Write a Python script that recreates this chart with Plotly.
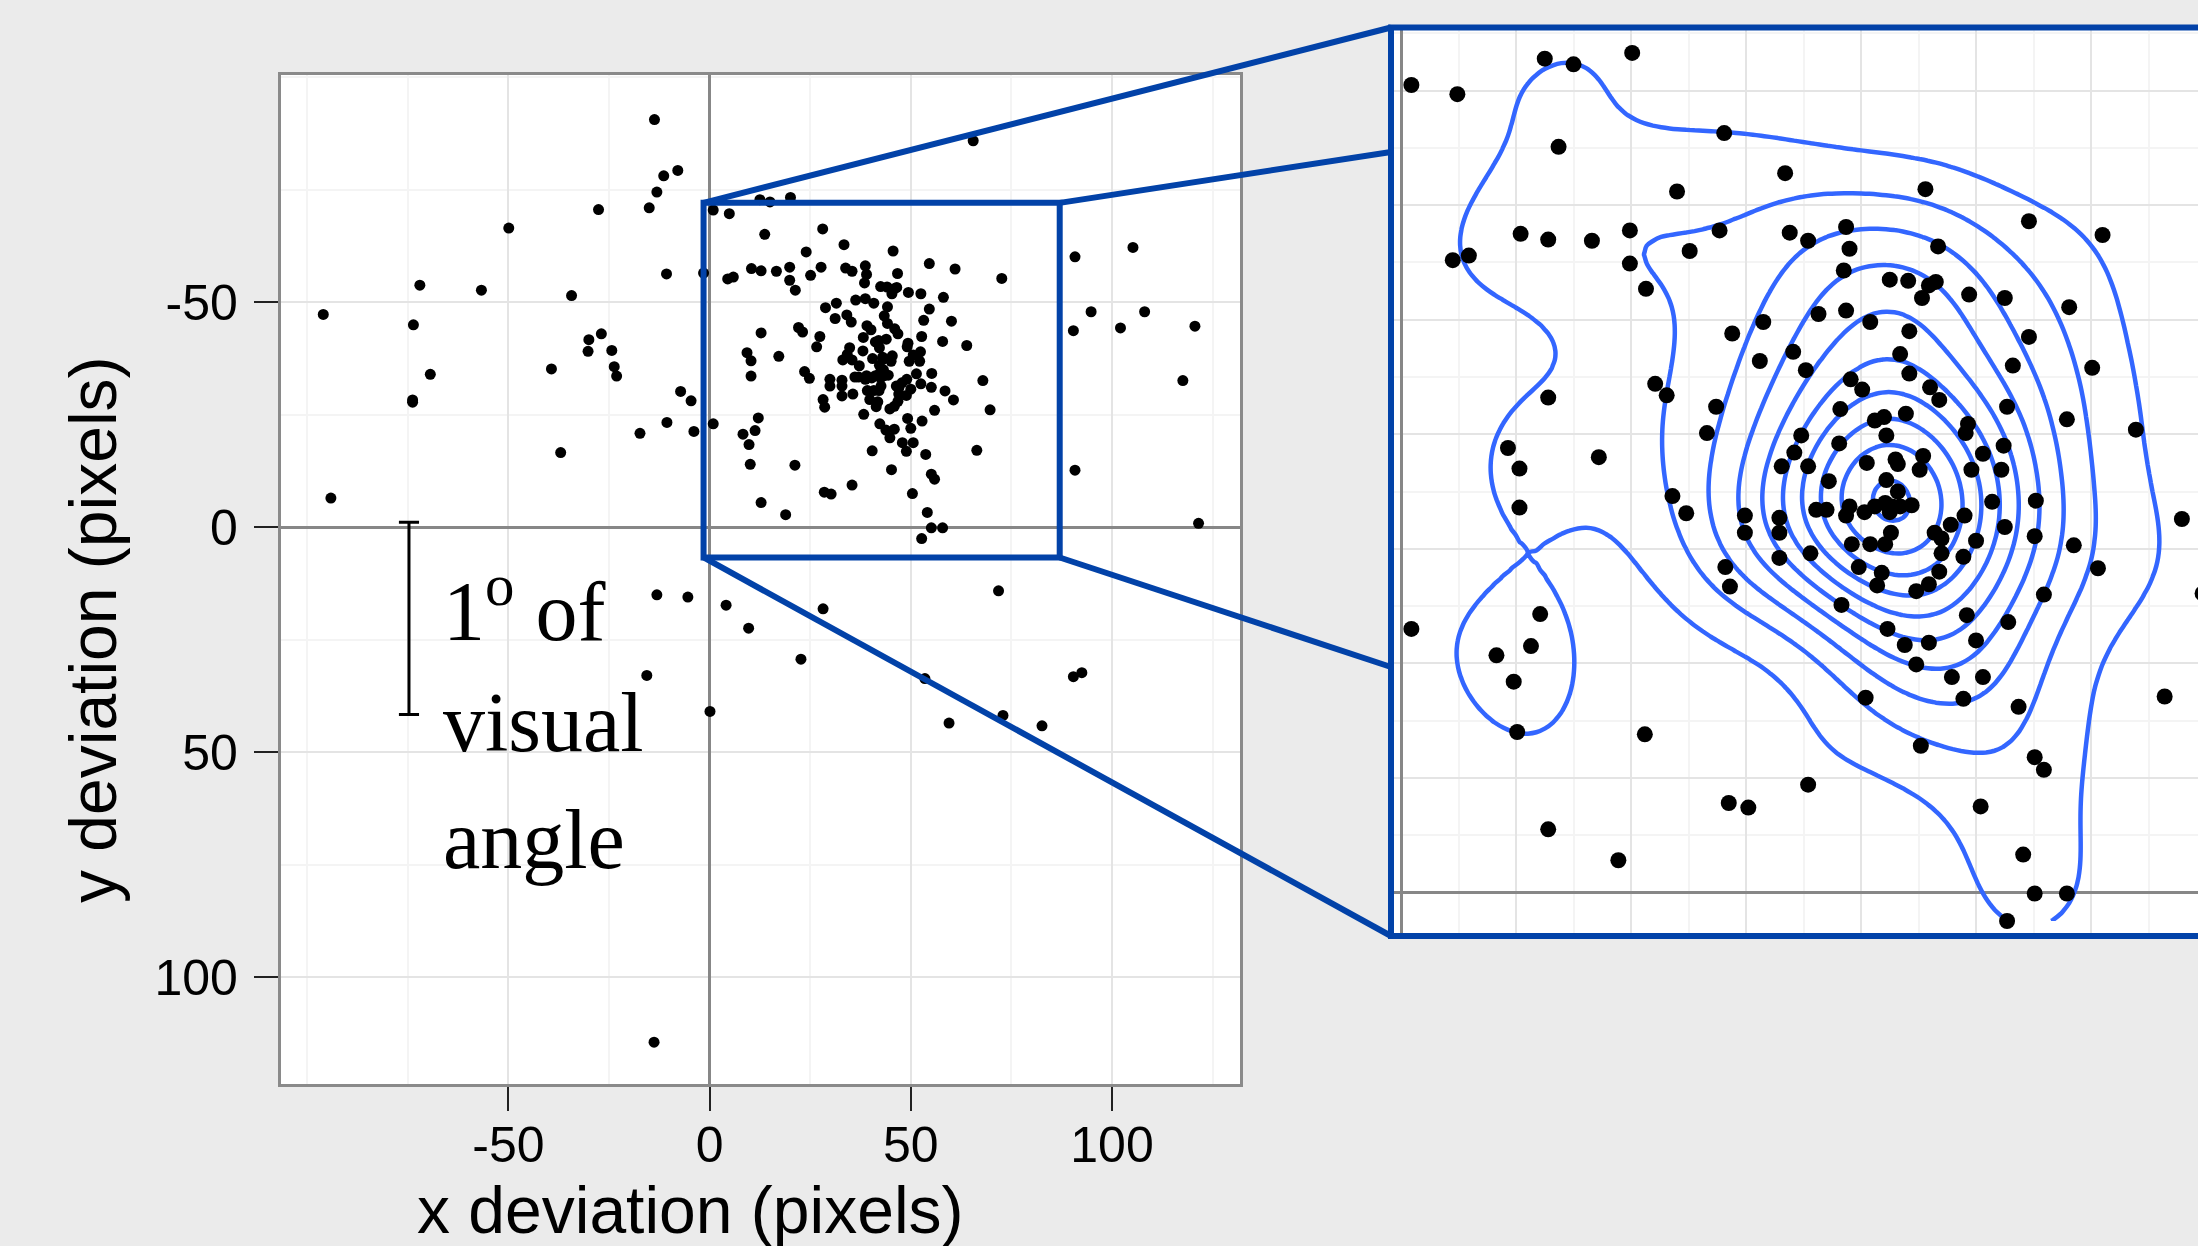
import numpy as np
import plotly.graph_objects as go

# ---------------- data (gaze deviations, pixels) ----------------
x_dev = [
    0.9, 4.9, 12.5, 15.0, 20.1, 28.1, 13.7, 33.4, 24.0, 10.4, 12.8, 16.6, 19.9, 19.9, 27.7, 33.8,
    25.1, 4.5, 5.9, 21.3, 31.5, 28.8, 34.1, 31.2, 22.1, 23.1, 12.8, 27.4, 26.6, 9.3, 10.3, 17.2,
    45.6, 54.6, 61.0, 38.7, 35.4, 39.0, 46.7, 38.5, 42.5, 44.1, 45.9, 46.5, 45.3, 49.4, 52.5, 58.1,
    36.3, 38.7, 40.8, 44.2, 54.6, 43.4, 53.2, 60.1, 35.2, 39.1, 44.2, 57.9, 63.9,
    40.1, 46.0, 46.8, 52.7, 38.2, 41.2, 42.0, 43.9, 49.3, 49.1, 34.8, 38.1, 42.2, 34.2, 33.1, 35.4,
    40.5, 43.0, 43.2, 45.4, 45.1, 50.6, 52.4, 49.6, 52.2, 37.2, 42.2, 43.2, 51.4, 55.2, 36.1, 37.0,
    39.0, 38.7, 40.3, 41.2, 42.1, 42.7, 42.5, 43.4, 44.4, 29.9, 29.9, 32.9, 32.9, 49.0, 47.8, 52.5,
    55.1, 46.4, 47.0, 42.6, 42.1, 39.2, 40.8, 50.0, 47.0, 48.9, 32.9, 35.6, 39.8, 41.8, 41.4, 46.8,
    45.9, 44.8, 38.3, 49.2, 52.8, 42.3, 50.0, 43.8, 45.9,
    23.6, 24.8, 10.3, 28.2, 28.6, 0.9, 12.1, 11.3, 8.3, 9.8, 10.1, 21.2, 28.5, 30.2, 12.8, 18.9,
    58.5, 60.6, 67.9, 55.9, 44.8, 47.9, 50.6, 48.9, 40.4, 53.7, 45.2, 66.4, 55.1, 55.9, 35.4, 50.4,
    54.1, 55.1, 57.9, 52.7,
    -13.7, -7.9, -11.4, -13.1, -15.0, -27.6, -49.9, -10.7, -1.5, -72.0, -56.7, -34.3, -96.0, -73.6,
    -26.9, -30.0, -30.2, -24.3, -23.7, -23.1, -39.3, -69.4, -73.8, -73.8, -7.2, -4.6, -10.6, -17.3,
    -3.9, -37.0, -94.1,
    65.5, 90.8, 105.2, 72.6, 94.8, 108.1, 90.4, 102.1, 120.6, 117.6, 69.7, 90.8, 121.5,
    -13.1, -5.4, 4.1, 9.7, -15.6, 0.1, -13.8,
    71.8, 28.2, 22.7, 53.5, 59.5, 72.9, 82.6, 90.4, 92.5,
]
y_dev = [
    -70.5, -69.7, -72.8, -72.3, -73.3, -66.3, -65.1, -62.8, -61.2, -57.5, -57.0, -56.9, -57.8, -54.9, -57.8, -57.6,
    -56.0, -55.2, -55.6, -52.7, -49.8, -48.8, -47.2, -46.4, -44.4, -43.4, -43.2, -42.4, -40.1, -38.8, -37.0, -38.0,
    -61.4, -58.6, -57.4, -58.1, -56.9, -56.2, -56.4, -54.3, -53.5, -53.4, -53.0, -53.3, -51.9, -52.2, -51.9, -51.1,
    -50.5, -50.8, -49.8, -49.0, -48.5, -47.0, -46.0, -45.8, -45.6, -44.8, -45.3, -41.3, -40.4,
    -43.9, -44.1, -43.0, -42.4, -42.2, -41.2, -41.5, -41.8, -40.9, -40.1, -39.9, -39.2, -39.9, -38.4, -37.2, -37.2,
    -37.5, -37.8, -37.4, -38.1, -36.9, -38.3, -39.0, -36.9, -36.9, -35.9, -36.0, -35.0, -34.1, -34.2, -33.4, -33.4,
    -33.7, -32.9, -33.2, -33.7, -34.0, -33.7, -33.2, -33.7, -33.8, -32.9, -31.4, -32.7, -31.4, -32.9, -32.1, -31.9,
    -31.1, -31.4, -30.9, -31.4, -30.4, -30.4, -30.4, -30.7, -29.6, -29.3, -29.2, -29.6, -28.4, -27.9, -26.8, -28.0,
    -26.9, -26.3, -25.1, -24.2, -23.6, -23.0, -22.0, -21.6, -21.8,
    -34.6, -33.1, -33.6, -28.4, -26.7, -23.0, -24.3, -21.5, -20.7, -18.4, -14.0, -13.8, -7.8, -7.4, -5.5, -2.8,
    -30.3, -28.3, -32.6, -26.0, -19.9, -18.8, -18.8, -16.9, -17.0, -16.2, -12.8, -17.1, -11.8, -10.7, -9.4, -7.5,
    -3.3, 0.1, 0.1, 2.5,
    -90.6, -79.3, -78.1, -74.5, -71.0, -70.6, -66.5, -56.3, -56.5, -53.8, -52.7, -51.5, -47.3, -45.0,
    -43.0, -41.7, -39.1, -39.3, -35.7, -33.6, -35.2, -34.0, -28.3, -27.8, -30.2, -28.1, -23.3, -20.9,
    -21.3, -16.6, -6.5,
    -85.9, -60.1, -62.2, -55.3, -47.9, -47.9, -43.7, -44.3, -44.7, -32.6, -26.1, -12.7, -0.9,
    15.0, 15.5, 17.3, 22.4, 32.9, 40.9, 114.4,
    14.1, 18.1, 29.3, 33.6, 43.5, 41.8, 44.1, 33.2, 32.3,
]

x_tick_vals = [-50, 0, 50, 100]
y_tick_vals = [-50, 0, 50, 100]
x_minor_vals = [-100, -75, -25, 25, 75, 125]
y_minor_vals = [-100, -75, -25, 25, 75]

zoom_box = dict(x0=-1.5, x1=87.0, y0=-72.1, y1=6.7)      # region magnified in the inset
scale_bar = dict(x=-74.7, y0=-1.1, y1=41.6, cap=2.5)       # 1 degree of visual angle
label_lines = ["1<sup>o</sup> of", "visual", "angle"]

# ---------------- geometry (pixels of the 2198x1246 page) ----------------
W, H = 2198, 1246
BLUE = "#0242A8"
P1 = dict(left=280.6, right=1240.0, top=74.6, bottom=1084.0)
XR1 = [-106.6, 131.8]
YR1 = [123.7, -100.6]
P2 = dict(left=1394.0, right=2198.0, top=30.0, bottom=933.0)
XR2 = [-0.61, 69.3]
YR2 = [3.55, -75.3]


def px(X):
    return X / W


def py(Y):
    return 1 - Y / H


def d2p1(x, y):
    X = P1["left"] + (x - XR1[0]) / (XR1[1] - XR1[0]) * (P1["right"] - P1["left"])
    Y = P1["top"] + (y - YR1[1]) / (YR1[0] - YR1[1]) * (P1["bottom"] - P1["top"])
    return X, Y


# ---------------- 2-D kernel density (as MASS::kde2d) for the inset ----------------
xa = np.array(x_dev)
ya = np.array(y_dev)
inside = (xa >= XR2[0]) & (xa <= zoom_box["x1"] + 1) & (ya >= YR2[1]) & (ya <= YR2[0])
xi, yi = xa[inside], ya[inside]


def bw_nrd(v):
    q = np.quantile(v, [0.25, 0.75])
    return 4 * 1.06 * min(np.std(v, ddof=1), (q[1] - q[0]) / 1.34) * len(v) ** (-0.2)


hx, hy = bw_nrd(xi) / 4, bw_nrd(yi) / 4
gx = np.linspace(xi.min(), xi.max(), 100)
gy = np.linspace(yi.min(), yi.max(), 100)
phi = lambda u: np.exp(-0.5 * u * u) / np.sqrt(2 * np.pi)
kx = phi((gx[:, None] - xi[None, :]) / hx)
ky = phi((gy[:, None] - yi[None, :]) / hy)
dens = (kx @ ky.T) / (len(xi) * hx * hy)   # [ix, iy]


def r_pretty(lo, hi, n=10):
    cell = (hi - lo) / n
    U = 10 ** np.floor(np.log10(cell))
    unit = U
    if 2 * U - cell < 1.5 * (cell - unit):
        unit = 2 * U
        if 5 * U - cell < 2.75 * (cell - unit):
            unit = 5 * U
            if 10 * U - cell < 1.5 * (cell - unit):
                unit = 10 * U
    return unit


step = r_pretty(dens.min(), dens.max())
top_level = np.floor(dens.max() / step) * step

fig = go.Figure()

fig.add_trace(go.Contour(
    x=gx, y=gy, z=dens.T, xaxis="x2", yaxis="y2",
    contours=dict(coloring="none", start=step, end=top_level, size=step),
    line=dict(color="#3366FF", width=4.5, smoothing=1.0),
    showscale=False, hoverinfo="skip",
))

fig.add_trace(go.Scatter(
    x=x_dev, y=y_dev, mode="markers", xaxis="x", yaxis="y",
    marker=dict(color="black", size=11), hoverinfo="skip", showlegend=False,
))
fig.add_trace(go.Scatter(
    x=x_dev, y=y_dev, mode="markers", xaxis="x2", yaxis="y2",
    marker=dict(color="black", size=16), hoverinfo="skip", showlegend=False,
))

tickfont = dict(family="Liberation Sans, Arial, sans-serif", size=50, color="black")
grid_major = "#E4E4E4"
grid_minor = "#F4F4F4"
zero_col = "#878787"

fig.update_layout(
    width=W, height=H,
    margin=dict(l=0, r=0, t=0, b=0),
    paper_bgcolor="#EBEBEB", plot_bgcolor="white",
    showlegend=False,
    xaxis=dict(
        domain=[px(P1["left"]), px(P1["right"])], range=XR1, anchor="y",
        tickmode="array", tickvals=x_tick_vals, ticktext=[str(v) for v in x_tick_vals],
        ticks="outside", ticklen=24, tickwidth=1.5, tickcolor="#222", tickfont=tickfont,
        ticklabelstandoff=-9,
        showgrid=True, gridcolor=grid_major, gridwidth=2,
        minor=dict(tickmode="array", tickvals=x_minor_vals, showgrid=True, gridcolor=grid_minor, gridwidth=2, ticks=""),
        zeroline=True, zerolinecolor=zero_col, zerolinewidth=2.5,
        showline=True, mirror=True, linecolor="#8a8a8a", linewidth=2.5,
    ),
    yaxis=dict(
        domain=[py(P1["bottom"]), py(P1["top"])], range=YR1, anchor="x",
        tickmode="array", tickvals=y_tick_vals, ticktext=[str(v) for v in y_tick_vals],
        ticks="outside", ticklen=24, tickwidth=1.5, tickcolor="#222", tickfont=tickfont,
        ticklabelstandoff=6,
        showgrid=True, gridcolor=grid_major, gridwidth=2,
        minor=dict(tickmode="array", tickvals=y_minor_vals, showgrid=True, gridcolor=grid_minor, gridwidth=2, ticks=""),
        zeroline=True, zerolinecolor=zero_col, zerolinewidth=2.5,
        showline=True, mirror=True, linecolor="#8a8a8a", linewidth=2.5,
    ),
    xaxis2=dict(
        domain=[px(P2["left"]), 1.0], range=XR2, anchor="y2",
        tick0=0, dtick=10, showticklabels=False, ticks="",
        showgrid=True, gridcolor=grid_major, gridwidth=2,
        minor=dict(tick0=0, dtick=5, showgrid=True, gridcolor=grid_minor, gridwidth=2),
        zeroline=True, zerolinecolor=zero_col, zerolinewidth=2.5, showline=False,
    ),
    yaxis2=dict(
        domain=[py(P2["bottom"]), py(P2["top"])], range=YR2, anchor="x2",
        tick0=0, dtick=10, showticklabels=False, ticks="",
        showgrid=True, gridcolor=grid_major, gridwidth=2,
        minor=dict(tick0=0, dtick=5, showgrid=True, gridcolor=grid_minor, gridwidth=2),
        zeroline=True, zerolinecolor=zero_col, zerolinewidth=2.5, showline=False,
    ),
)

shapes = []
# magnified region in the main panel
shapes.append(dict(type="rect", xref="x", yref="y", x0=zoom_box["x0"], x1=zoom_box["x1"],
                   y0=zoom_box["y0"], y1=zoom_box["y1"], line=dict(color=BLUE, width=6)))
# inset frame (right side runs off the page)
frame_l, frame_t, frame_b = P2["left"] - 3, P2["top"] - 2.5, P2["bottom"] + 3
shapes.append(dict(type="rect", xref="paper", yref="paper", x0=px(frame_l), x1=px(W + 40),
                   y0=py(frame_b), y1=py(frame_t), line=dict(color=BLUE, width=6)))
# connectors from box corners to the inset
corners = [
    (d2p1(zoom_box["x0"], zoom_box["y0"]), (frame_l, frame_t)),
    (d2p1(zoom_box["x1"], zoom_box["y0"]), (frame_l, 152.0)),
    (d2p1(zoom_box["x1"], zoom_box["y1"]), (frame_l, 667.0)),
    (d2p1(zoom_box["x0"], zoom_box["y1"]), (frame_l, frame_b)),
]
for (X0, Y0), (X1, Y1) in corners:
    shapes.append(dict(type="line", xref="paper", yref="paper", x0=px(X0), y0=py(Y0),
                       x1=px(X1), y1=py(Y1), line=dict(color=BLUE, width=6)))
# scale bar
sb = scale_bar
shapes.append(dict(type="line", xref="x", yref="y", x0=sb["x"], x1=sb["x"], y0=sb["y0"], y1=sb["y1"],
                   line=dict(color="black", width=3)))
for yy in (sb["y0"], sb["y1"]):
    shapes.append(dict(type="line", xref="x", yref="y", x0=sb["x"] - sb["cap"], x1=sb["x"] + sb["cap"],
                       y0=yy, y1=yy, line=dict(color="black", width=3)))
fig.update_layout(shapes=shapes)

annotations = []
serif = dict(family="Liberation Serif, Times New Roman, serif", size=84, color="black")
for i, t in enumerate(label_lines):
    annotations.append(dict(text=t, xref="paper", yref="paper", x=px(441), y=py(605 + 117 * i),
                            xanchor="left", yanchor="middle", showarrow=False, font=serif))
titlefont = dict(family="Liberation Sans, Arial, sans-serif", size=66, color="black")
annotations.append(dict(text="x deviation (pixels)", xref="paper", yref="paper", x=px(690), y=py(1210),
                        xanchor="center", yanchor="middle", showarrow=False, font=titlefont))
annotations.append(dict(text="y deviation (pixels)", xref="paper", yref="paper", x=px(93), y=py(630),
                        xanchor="center", yanchor="middle", showarrow=False, textangle=-90, font=titlefont))
fig.update_layout(annotations=annotations)

fig.write_html(
    "out.html",
    config={"displayModeBar": False},
    post_script="document.body.style.margin='0px';document.body.style.overflow='hidden';",
)
